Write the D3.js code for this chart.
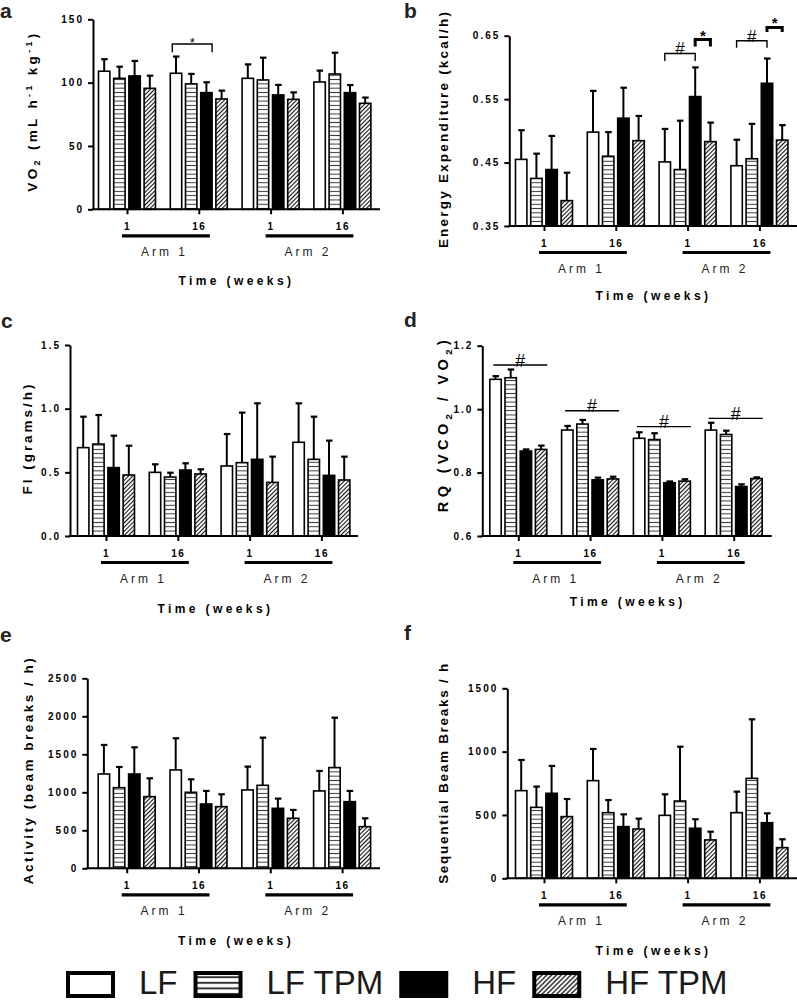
<!DOCTYPE html>
<html>
<head>
<meta charset="utf-8">
<script src="https://cdn.jsdelivr.net/npm/d3@7"></script>
<style>
  body { margin: 0; background: #fff; }
  text { font-family: 'Liberation Sans', Arial, sans-serif; fill: #000; }
</style>
</head>
<body>
<div id="main"></div>
<script>
/*********************************************************
 * Data
 *********************************************************/
const groups = ['a1w1', 'a1w16', 'a2w1', 'a2w16'];
const weekLabels = ['1', '16', '1', '16'];
const armLabels = ['Arm 1', 'Arm 2'];
const series = ['LF', 'LF TPM', 'HF', 'HF TPM'];

// one row per group, one value per series
const vo2Mean = [[109, 103.4, 105.3, 95.5], [107.4, 99, 92.1, 87.1], [103.4, 102.1, 90.3, 86.8], [100.5, 106.8, 92.1, 83.7]];
const vo2Sem = [[9.5, 9.2, 11.8, 10], [13.2, 7.9, 8.2, 6.6], [11, 17.6, 7.9, 5.5], [9, 16.8, 6, 4.5]];

const eeMean = [[0.455, 0.425, 0.439, 0.39], [0.498, 0.46, 0.52, 0.4845], [0.451, 0.439, 0.554, 0.483], [0.445, 0.456, 0.575, 0.4855]];
const eeSem = [[0.046, 0.039, 0.053, 0.044], [0.065, 0.038, 0.048, 0.039], [0.052, 0.077, 0.046, 0.03], [0.041, 0.055, 0.039, 0.0235]];

const fiMean = [[0.694, 0.722, 0.537, 0.479], [0.5, 0.463, 0.518, 0.487], [0.55, 0.576, 0.602, 0.421], [0.736, 0.602, 0.476, 0.44]];
const fiSem = [[0.243, 0.228, 0.251, 0.23], [0.063, 0.034, 0.053, 0.037], [0.251, 0.393, 0.44, 0.202], [0.306, 0.335, 0.273, 0.183]];

const rqMean = [[1.094, 1.099, 0.868, 0.873], [0.934, 0.953, 0.777, 0.78], [0.908, 0.904, 0.768, 0.773], [0.934, 0.92, 0.756, 0.781]];
const rqSem = [[0.01, 0.026, 0.005, 0.012], [0.013, 0.013, 0.007, 0.007], [0.019, 0.02, 0.004, 0.006], [0.023, 0.012, 0.007, 0.004]];

const actMean = [[1241, 1061, 1241, 943], [1294, 1000, 846, 811], [1031, 1092, 789, 658], [1018, 1325, 877, 548]];
const actSem = [[382, 272, 351, 241], [417, 171, 172, 163], [307, 627, 128, 110], [263, 657, 141, 110]];

const seqMean = [[692, 560, 671, 487], [771, 518, 408, 389], [497, 610, 395, 303], [518, 789, 439, 242]];
const seqSem = [[242, 164, 216, 139], [250, 100, 97, 82], [166, 429, 71, 65], [166, 466, 74, 66]];

// significance marks: group, from/to series, height (data units)
const sigVo2 = [{ g: 1, s0: 0, s1: 2, y: 130.5, drop: 124, label: '*', thick: false, edge: true }];
const sigEe = [
  { g: 2, s0: 0, s1: 2, y: 0.622, drop: 0.61, label: '#', thick: false },
  { g: 2, s0: 2, s1: 3, y: 0.644, drop: 0.633, label: '*', thick: true },
  { g: 3, s0: 0, s1: 2, y: 0.642, drop: 0.631, label: '#', thick: false },
  { g: 3, s0: 2, s1: 3, y: 0.663, drop: 0.656, label: '*', thick: true }
];
const sigRq = [{ g: 0, y: 1.139 }, { g: 1, y: 0.995 }, { g: 2, y: 0.945 }, { g: 3, y: 0.971 }];

/*********************************************************
 * Layout
 *********************************************************/
const svgWidth = 797;
const svgHeight = 1000;
const groupStep = 71.8;
const barStep = 15.2;

const svg = d3
  .select('#main')
  .append('svg')
  .attr('width', svgWidth)
  .attr('height', svgHeight);

const defs = svg.append('defs');

function hPattern(id, step, sw) {
  const p = defs
    .append('pattern')
    .attr('id', id)
    .attr('patternUnits', 'userSpaceOnUse')
    .attr('width', 8)
    .attr('height', step);
  p.append('rect').attr('width', 8).attr('height', step).attr('fill', '#fff');
  p.append('line')
    .attr('x1', 0).attr('x2', 8)
    .attr('y1', step / 2).attr('y2', step / 2)
    .attr('stroke', '#333')
    .attr('stroke-width', sw);
}

function dPattern(id, step, sw) {
  const p = defs
    .append('pattern')
    .attr('id', id)
    .attr('patternUnits', 'userSpaceOnUse')
    .attr('width', step)
    .attr('height', step)
    .attr('patternTransform', 'rotate(45)');
  p.append('rect').attr('width', step).attr('height', step).attr('fill', '#fff');
  p.append('line')
    .attr('x1', step / 2).attr('x2', step / 2)
    .attr('y1', 0).attr('y2', step)
    .attr('stroke', '#111')
    .attr('stroke-width', sw);
}

hPattern('hl', 4.3, 1);
dPattern('dg', 3, 1.1);
hPattern('hlBig', 5.6, 2);
dPattern('dgBig', 3.4, 1.3);

const fills = ['#fff', 'url(#hl)', '#000', 'url(#dg)'];
const legendFills = ['#fff', 'url(#hlBig)', '#000', 'url(#dgBig)'];

// labLen = span of the rotated y title in the figure
const panels = [
  {
    letter: 'a', lx: 0, ly: 18,
    mean: vo2Mean, sem: vo2Sem, domain: [0, 150], ticks: [0, 50, 100, 150], fmt: d3.format('d'),
    axisX: 93, right: 380, top: 19.3, zero: 209.3, tick1: 127, timeDy: 75.5,
    label: [['VO'], ['2', 'sub'], [' (mL h'], ['-1', 'sup'], [' kg'], ['-1', 'sup'], [')']],
    labX: 32, labY: 111, labSize: 13.5, labLen: 158,
    sig: sigVo2
  },
  {
    letter: 'b', lx: 404, ly: 18,
    mean: eeMean, sem: eeSem, domain: [0.35, 0.65], ticks: [0.35, 0.45, 0.55, 0.65], fmt: d3.format('.2f'),
    axisX: 509.3, right: 797, top: 35.7, zero: 226, tick1: 544, timeDy: 74,
    label: [['Energy Expenditure (kcal/h)']],
    labX: 443, labY: 129, labSize: 13.5, labLen: 236,
    sig: sigEe
  },
  {
    letter: 'c', lx: 1, ly: 328,
    mean: fiMean, sem: fiSem, domain: [0, 1.5], ticks: [0, 0.5, 1, 1.5], fmt: d3.format('.1f'),
    axisX: 70, right: 358, top: 345, zero: 536, tick1: 106, timeDy: 77,
    label: [['FI (grams/h)']],
    labX: 27, labY: 438, labSize: 13.5, labLen: 110,
    sig: []
  },
  {
    letter: 'd', lx: 404, ly: 327,
    mean: rqMean, sem: rqSem, domain: [0.6, 1.2], ticks: [0.6, 0.8, 1.0, 1.2], fmt: d3.format('.1f'),
    axisX: 482.3, right: 771.7, top: 345.7, zero: 536, tick1: 518.3, timeDy: 70,
    label: [['RQ (VCO'], ['2', 'sub'], [' / VO'], ['2', 'sub'], [')']],
    labX: 443, labY: 424, labSize: 14.5, labLen: 172,
    lines: sigRq
  },
  {
    letter: 'e', lx: 0, ly: 642,
    mean: actMean, sem: actSem, domain: [0, 2500], ticks: [0, 500, 1000, 1500, 2000, 2500], fmt: d3.format('d'),
    axisX: 87.3, right: 380, top: 678.3, zero: 868.3, tick1: 126.7, timeDy: 77,
    label: [['Activity (beam breaks / h)']],
    labX: 28, labY: 770, labSize: 13.5, labLen: 226,
    sig: []
  },
  {
    letter: 'f', lx: 404, ly: 640,
    mean: seqMean, sem: seqSem, domain: [0, 1500], ticks: [0, 500, 1000, 1500], fmt: d3.format('d'),
    axisX: 507.3, right: 797, top: 688.3, zero: 878.3, tick1: 544, timeDy: 77,
    label: [['Sequential Beam Breaks / h']],
    labX: 443, labY: 773, labSize: 13.5, labLen: 220,
    sig: []
  }
];

panels.forEach(drawPanel);
drawLegend();

/*********************************************************
 * Panels
 *********************************************************/
function drawPanel(p) {
  const g = svg.append('g').attr('class', 'panel-' + p.letter);

  const y = d3.scaleLinear().domain(p.domain).range([p.zero, p.top]);
  const xg = d3.scalePoint().domain(groups).range([p.tick1, p.tick1 + 3 * groupStep]);
  const xs = d3
    .scaleBand()
    .domain(series)
    .range([-2 * barStep, 2 * barStep])
    .paddingInner(0.25)
    .paddingOuter(0.125);
  const bw = xs.bandwidth();
  const barX = (gi, si) => xg(groups[gi]) + xs(series[si]);
  const barC = (gi, si) => barX(gi, si) + bw / 2;

  // flatten to bar records
  const bars = [];
  p.mean.forEach((row, gi) => {
    row.forEach((v, si) => {
      bars.push({ gi, si, v, e: p.sem[gi][si] });
    });
  });

  // panel letter
  g.append('text')
    .attr('x', p.lx)
    .attr('y', p.ly)
    .style('font-size', '21px')
    .style('font-weight', 'bold')
    .style('fill', '#222')
    .text(p.letter);

  // error bars (behind the bars)
  const err = g.append('g').attr('class', 'errors');
  err.selectAll('line.stem')
    .data(bars)
    .enter()
    .append('line')
    .attr('class', 'stem')
    .attr('x1', d => barC(d.gi, d.si))
    .attr('x2', d => barC(d.gi, d.si))
    .attr('y1', d => y(d.v))
    .attr('y2', d => y(d.v + d.e))
    .attr('stroke', '#000')
    .attr('stroke-width', 2);
  err.selectAll('line.cap')
    .data(bars)
    .enter()
    .append('line')
    .attr('class', 'cap')
    .attr('x1', d => barC(d.gi, d.si) - 3)
    .attr('x2', d => barC(d.gi, d.si) + 3.5)
    .attr('y1', d => y(d.v + d.e))
    .attr('y2', d => y(d.v + d.e))
    .attr('stroke', '#000')
    .attr('stroke-width', 2.2);

  // bars
  g.selectAll('rect.bar')
    .data(bars)
    .enter()
    .append('rect')
    .attr('class', 'bar')
    .attr('x', d => barX(d.gi, d.si))
    .attr('width', bw)
    .attr('y', d => y(d.v))
    .attr('height', d => p.zero - y(d.v))
    .attr('fill', d => fills[d.si])
    .attr('stroke', '#000')
    .attr('stroke-width', 1.6);

  // y axis
  const yAxis = d3
    .axisLeft(y)
    .tickValues(p.ticks)
    .tickFormat(p.fmt)
    .tickSize(5)
    .tickSizeOuter(0)
    .tickPadding(4);
  const ya = g.append('g')
    .attr('transform', `translate(${p.axisX},0)`)
    .call(yAxis);
  ya.select('.domain').attr('stroke-width', 2).attr('stroke', '#000');
  ya.selectAll('.tick line').attr('stroke-width', 2).attr('stroke', '#000');
  ya.selectAll('.tick text')
    .attr('font-family', null)
    .attr('font-size', null)
    .style('font-size', '10px')
    .style('font-weight', 'bold')
    .style('letter-spacing', '2px');

  // x axis: baseline across the plot, ticks at the group centres
  g.append('line')
    .attr('x1', p.axisX - 1)
    .attr('x2', p.right)
    .attr('y1', p.zero)
    .attr('y2', p.zero)
    .attr('stroke', '#000')
    .attr('stroke-width', 2);

  const xAxis = d3
    .axisBottom(xg)
    .tickSize(5)
    .tickSizeOuter(0)
    .tickPadding(8.6)
    .tickFormat((d, i) => weekLabels[i]);
  const xa = g.append('g')
    .attr('transform', `translate(0,${p.zero})`)
    .call(xAxis);
  xa.select('.domain').remove();
  xa.selectAll('.tick line').attr('stroke-width', 2).attr('stroke', '#000');
  xa.selectAll('.tick text')
    .attr('font-family', null)
    .attr('font-size', null)
    .style('font-size', '10px')
    .style('font-weight', 'bold')
    .style('letter-spacing', '1.5px');

  // arm underlines and labels
  armLabels.forEach((arm, i) => {
    const x1 = xg(groups[2 * i]);
    const x2 = xg(groups[2 * i + 1]);
    g.append('line')
      .attr('x1', x1 - 5)
      .attr('x2', x2 + 11)
      .attr('y1', p.zero + 26.5)
      .attr('y2', p.zero + 26.5)
      .attr('stroke', '#000')
      .attr('stroke-width', 3.2);
    g.append('text')
      .attr('x', (x1 + x2) / 2 + 1.5)
      .attr('y', p.zero + 47)
      .attr('text-anchor', 'middle')
      .style('font-size', '12px')
      .style('letter-spacing', '3px')
      .style('fill', '#222')
      .text(arm);
  });

  // x title
  g.append('text')
    .attr('x', (xg(groups[0]) + xg(groups[3])) / 2 + 1.7)
    .attr('y', p.zero + p.timeDy)
    .attr('text-anchor', 'middle')
    .style('font-size', '12px')
    .style('font-weight', 'bold')
    .style('letter-spacing', '3.4px')
    .text('Time (weeks)');

  // y title (with sub/superscripts), spaced out to the figure's span
  const yt = g.append('text')
    .attr('transform', `translate(${p.labX + p.labSize * 0.36},${p.labY}) rotate(-90)`)
    .attr('text-anchor', 'middle')
    .style('font-size', p.labSize + 'px')
    .style('font-weight', 'bold');
  let shift = 0;
  let nChars = 0;
  p.label.forEach(part => {
    const kind = part[1];
    const target = kind === 'sub' ? 3.5 : kind === 'sup' ? -4.5 : 0;
    yt.append('tspan')
      .attr('dy', target - shift)
      .style('font-size', kind ? (p.labSize * 0.66) + 'px' : null)
      .text(part[0]);
    shift = target;
    nChars += part[0].length;
  });
  const natural = yt.node().getComputedTextLength();
  const spacing = Math.max(0, (p.labLen - natural) / (nChars - 1));
  yt.style('letter-spacing', spacing + 'px');

  // significance brackets
  (p.sig || []).forEach(s => {
    const xa0 = s.edge ? barX(s.g, s.s0) + 2 : barC(s.g, s.s0);
    const xa1 = s.edge ? barX(s.g, s.s1) + bw : barC(s.g, s.s1);
    const yy = y(s.y);
    const yd = y(s.drop);
    g.append('path')
      .attr('d', `M${xa0},${yd}V${yy}H${xa1}V${yd}`)
      .attr('fill', 'none')
      .attr('stroke', '#000')
      .attr('stroke-width', s.thick ? 3 : 1.4);
    const isStar = s.label === '*';
    g.append('text')
      .attr('x', (xa0 + xa1) / 2)
      .attr('y', isStar ? yy + (s.thick ? 1 : 3) : yy + 1)
      .attr('text-anchor', 'middle')
      .style('font-size', isStar ? (s.thick ? '15px' : '13px') : '17px')
      .style('font-weight', isStar && s.thick ? 'bold' : 'normal')
      .text(s.label);
  });

  // plain significance lines (panel d)
  (p.lines || []).forEach(s => {
    const c = xg(groups[s.g]);
    const yy = y(s.y);
    g.append('line')
      .attr('x1', c - 25)
      .attr('x2', c + 29)
      .attr('y1', yy)
      .attr('y2', yy)
      .attr('stroke', '#000')
      .attr('stroke-width', 1.4);
    g.append('text')
      .attr('x', c + 2)
      .attr('y', yy + 1.5)
      .attr('text-anchor', 'middle')
      .style('font-size', '18px')
      .text('#');
  });
}

/*********************************************************
 * Legend
 *********************************************************/
function drawLegend() {
  const lg = svg.append('g').attr('class', 'legend');
  const boxW = 45;
  const boxH = 23;
  const boxY = 973;
  let x = 68;
  series.forEach((name, i) => {
    lg.append('rect')
      .attr('x', x)
      .attr('y', boxY)
      .attr('width', boxW)
      .attr('height', boxH)
      .attr('fill', legendFills[i])
      .attr('stroke', '#000')
      .attr('stroke-width', 4);
    const t = lg.append('text')
      .attr('x', x + boxW + 2 + 24)
      .attr('y', 994)
      .style('font-size', '33px')
      .style('fill', '#1a1a1a')
      .text(name);
    x = x + boxW + 26 + t.node().getComputedTextLength() + 18;
  });
}
</script>
</body>
</html>
